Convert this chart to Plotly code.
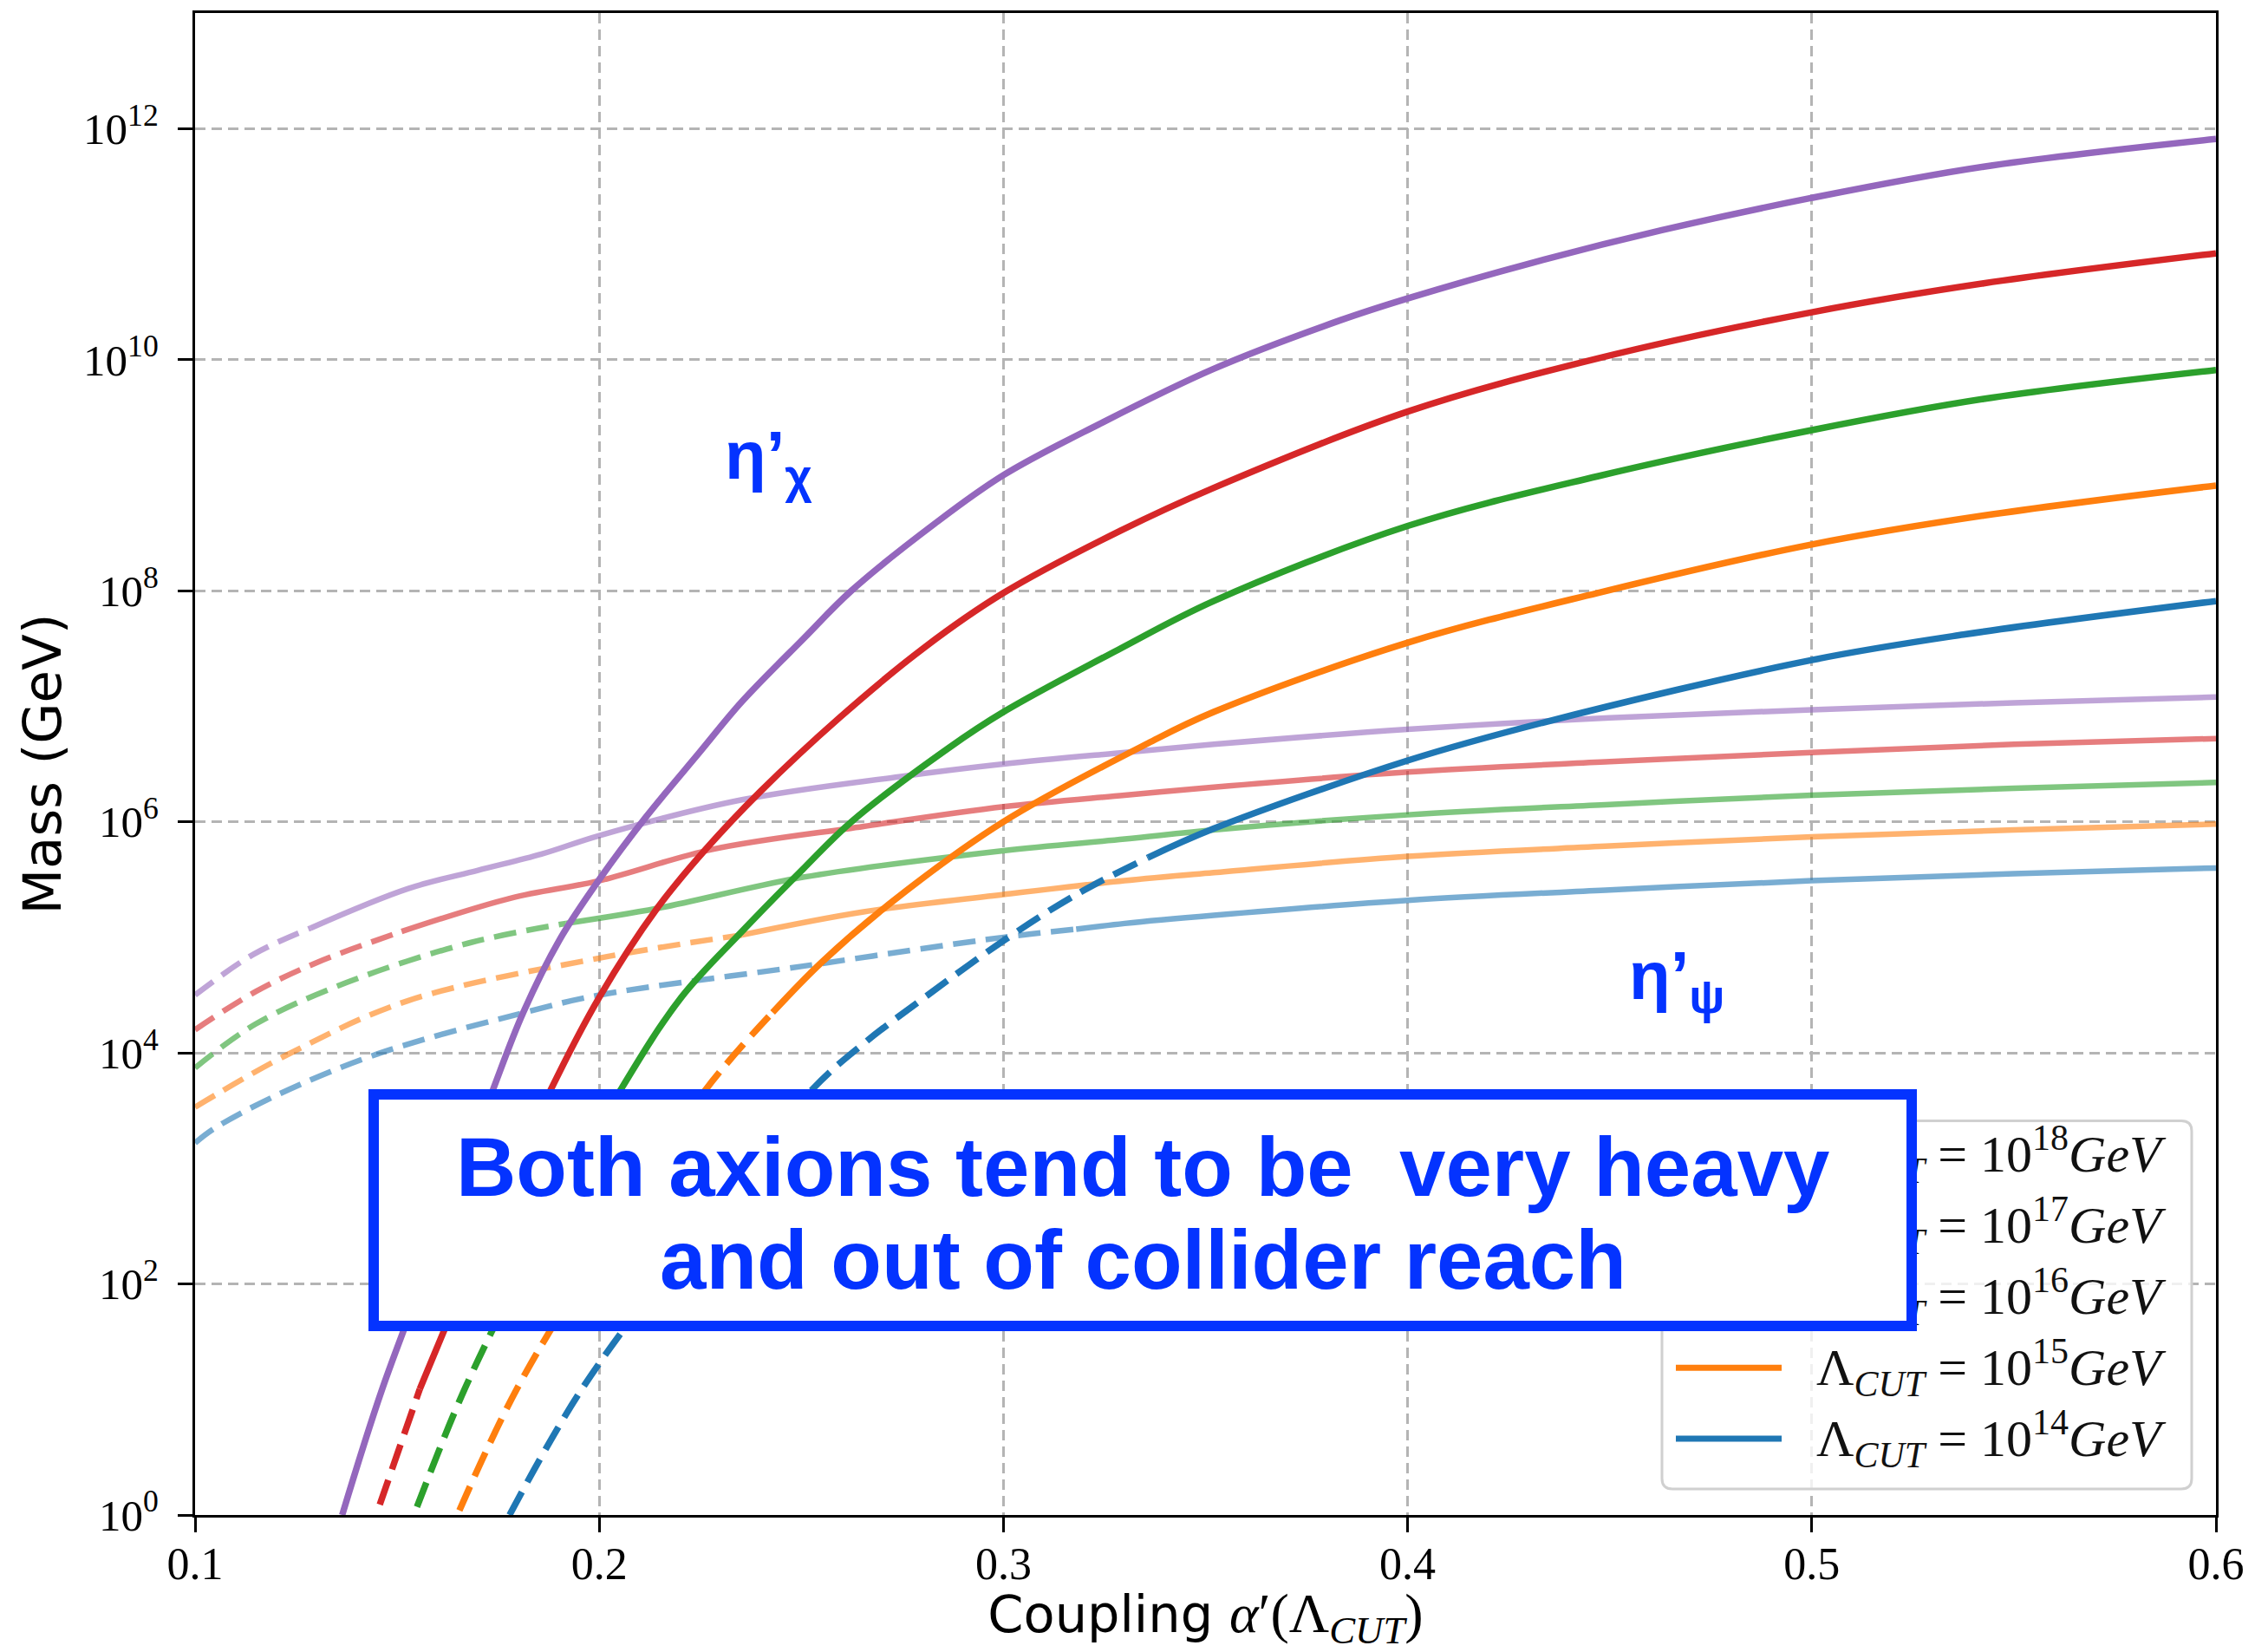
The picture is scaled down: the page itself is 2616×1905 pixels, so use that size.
import plotly.graph_objects as go

# ---------------------------------------------------------------------------
# Axion masses versus the coupling alpha'(Lambda_CUT), one curve per cut-off.
# Masses are stored as log10(m / GeV).
# ---------------------------------------------------------------------------

# eta'_chi (heavy curves)
chi18_alpha = [0.1364, 0.1463, 0.160, 0.1737, 0.1812, 0.1902, 0.200, 0.2113, 0.2248, 0.2353, 0.2504,
               0.2624, 0.283, 0.300, 0.3236, 0.352, 0.3833, 0.400, 0.431, 0.4629, 0.500, 0.5425, 0.600]
chi18_logm = [0.00, 1.09, 2.37, 3.68, 4.35, 4.98, 5.50, 6.03, 6.60, 7.04, 7.58,
              8.00, 8.58, 9.00, 9.44, 9.92, 10.34, 10.53, 10.84, 11.12, 11.40, 11.67, 11.91]

chi17_alpha = [0.1457, 0.1556, 0.172, 0.188, 0.200, 0.2143, 0.2263, 0.2398, 0.2594, 0.2805,
               0.300, 0.329, 0.352, 0.400, 0.447, 0.500, 0.5425, 0.600]
chi17_logm = [0.09, 1.09, 2.45, 3.68, 4.48, 5.25, 5.76, 6.26, 6.90, 7.51,
              7.98, 8.52, 8.89, 9.55, 10.01, 10.41, 10.66, 10.92]

chi16_alpha = [0.1549, 0.1667, 0.185, 0.2053, 0.2203, 0.2353, 0.2504, 0.2624, 0.2865, 0.300,
               0.329, 0.352, 0.400, 0.447, 0.500, 0.5425, 0.600]
chi16_logm = [0.07, 1.09, 2.40, 3.68, 4.48, 5.05, 5.59, 6.00, 6.64, 6.95,
              7.50, 7.91, 8.56, 8.99, 9.39, 9.66, 9.91]

chi15_alpha = [0.1654, 0.1796, 0.203, 0.2263, 0.2429, 0.2549, 0.2729, 0.300, 0.3358, 0.352,
               0.400, 0.447, 0.500, 0.5425, 0.600]
chi15_logm = [0.04, 1.09, 2.45, 3.68, 4.35, 4.78, 5.32, 6.00, 6.68, 6.95,
              7.55, 7.98, 8.40, 8.65, 8.91]

chi14_alpha = [0.1778, 0.1957, 0.224, 0.2526, 0.2654, 0.2805, 0.300, 0.318, 0.3358, 0.352,
               0.400, 0.4337, 0.500, 0.5375, 0.600]
chi14_logm = [0.00, 1.09, 2.43, 3.68, 4.08, 4.48, 4.97, 5.37, 5.69, 5.94,
              6.53, 6.86, 7.40, 7.62, 7.91]

# eta'_psi (light curves)
psi18_alpha = [0.100, 0.1143, 0.1286, 0.1526, 0.170, 0.1857, 0.200, 0.2353, 0.2742, 0.300,
               0.330, 0.352, 0.400, 0.450, 0.500, 0.550, 0.600]
psi18_logm = [4.50, 4.85, 5.08, 5.42, 5.58, 5.72, 5.88, 6.19, 6.39, 6.50,
              6.60, 6.67, 6.80, 6.90, 6.97, 7.03, 7.08]

psi17_alpha = [0.100, 0.115, 0.130, 0.1511, 0.1782, 0.200, 0.2278, 0.2654, 0.300, 0.330,
               0.352, 0.400, 0.450, 0.500, 0.550, 0.600]
psi17_logm = [4.20, 4.53, 4.78, 5.05, 5.34, 5.49, 5.76, 5.96, 6.13, 6.23,
              6.30, 6.43, 6.52, 6.60, 6.67, 6.72]

psi16_alpha = [0.100, 0.115, 0.1376, 0.1677, 0.1917, 0.2143, 0.2504, 0.300, 0.330, 0.352,
               0.400, 0.450, 0.500, 0.550, 0.600]
psi16_logm = [3.87, 4.25, 4.61, 4.95, 5.12, 5.25, 5.52, 5.75, 5.85, 5.93,
              6.06, 6.15, 6.23, 6.29, 6.34]

psi15_alpha = [0.100, 0.1226, 0.1526, 0.200, 0.2353, 0.2654, 0.300, 0.330, 0.352, 0.400,
               0.450, 0.500, 0.550, 0.600]
psi15_logm = [3.53, 3.98, 4.45, 4.82, 5.02, 5.22, 5.37, 5.49, 5.56, 5.70,
              5.79, 5.87, 5.93, 5.98]

psi14_alpha = [0.100, 0.1045, 0.120, 0.1451, 0.1827, 0.200, 0.2504, 0.300, 0.318, 0.330,
               0.352, 0.400, 0.450, 0.500, 0.550, 0.600]
psi14_logm = [3.22, 3.34, 3.63, 3.99, 4.36, 4.50, 4.75, 5.00, 5.07, 5.12,
              5.19, 5.32, 5.41, 5.49, 5.55, 5.60]

# index of the point where each curve switches from dashed to solid
chi_dash_end = {"18": 0, "17": 1, "16": 2, "15": 4, "14": 8}
psi_dash_end = {"18": 2, "17": 3, "16": 4, "15": 4, "14": 8}

cut_exponents = ["18", "17", "16", "15", "14"]
cut_colors = ["#9467bd", "#d62728", "#2ca02c", "#ff7f0e", "#1f77b4"]

x_ticks = [0.1, 0.2, 0.3, 0.4, 0.5, 0.6]
x_ticktext = ["0.1", "0.2", "0.3", "0.4", "0.5", "0.6"]
y_exponents = [0, 2, 4, 6, 8, 10, 12]

chi_series = {"18": (chi18_alpha, chi18_logm), "17": (chi17_alpha, chi17_logm),
              "16": (chi16_alpha, chi16_logm), "15": (chi15_alpha, chi15_logm),
              "14": (chi14_alpha, chi14_logm)}
psi_series = {"18": (psi18_alpha, psi18_logm), "17": (psi17_alpha, psi17_logm),
              "16": (psi16_alpha, psi16_logm), "15": (psi15_alpha, psi15_logm),
              "14": (psi14_alpha, psi14_logm)}

# ---------------------------------------------------------------------------
W, H = 2616, 1905
ML, MR, MT, MB = 225, 60, 13, 158
PW, PH = W - ML - MR, H - MT - MB

BLUE = "#0433ff"
SERIF = "Liberation Serif"
SANS = "DejaVu Sans"


def px_x(px):
    return (px - ML) / PW


def px_y(py):
    return (H - MB - py) / PH


def rgba(hex_color, a):
    h = hex_color.lstrip("#")
    r, g, b = int(h[0:2], 16), int(h[2:4], 16), int(h[4:6], 16)
    return f"rgba({r},{g},{b},{a})"


fig = go.Figure()


def add_curve(alpha, logm, split, color, width, dash, name):
    mass = [10 ** v for v in logm]
    if split > 0:
        fig.add_trace(go.Scatter(
            x=alpha[:split + 1], y=mass[:split + 1], mode="lines", name=name,
            line=dict(color=color, width=width, dash=dash, shape="spline", smoothing=1.0),
            showlegend=False, hoverinfo="skip"))
    fig.add_trace(go.Scatter(
        x=alpha[split:], y=mass[split:], mode="lines", name=name,
        line=dict(color=color, width=width, shape="spline", smoothing=1.0),
        showlegend=False, hoverinfo="skip"))


# light eta'_psi curves underneath
for exp_, col in zip(cut_exponents, cut_colors):
    a, m = psi_series[exp_]
    add_curve(a, m, psi_dash_end[exp_], rgba(col, 0.6), 6.5, "26px,12px", f"psi {exp_}")

# heavy eta'_chi curves on top
for exp_, col in zip(cut_exponents, cut_colors):
    a, m = chi_series[exp_]
    add_curve(a, m, chi_dash_end[exp_], col, 7.5, "30px,13px", f"chi {exp_}")

# ---------------------------------------------------------------------------
# legend frame and samples (drawn by hand so the box can be partly covered)
shapes = []
lx0, lx1, ly_top, ly_bot = 1917, 2528, 1292, 1717
x0, x1 = px_x(lx0), px_x(lx1)
y1, y0 = px_y(ly_top), px_y(ly_bot)
rx, ry = 12 / PW, 12 / PH
path = (f"M {x0 + rx},{y1} L {x1 - rx},{y1} Q {x1},{y1} {x1},{y1 - ry} "
        f"L {x1},{y0 + ry} Q {x1},{y0} {x1 - rx},{y0} L {x0 + rx},{y0} "
        f"Q {x0},{y0} {x0},{y0 + ry} L {x0},{y1 - ry} Q {x0},{y1} {x0 + rx},{y1} Z")
shapes.append(dict(type="path", xref="paper", yref="paper", path=path, layer="above",
                   fillcolor="rgba(255,255,255,0.8)", line=dict(color="#d0d0d0", width=3)))

row_y = [1331, 1413, 1495, 1577, 1659]
for py, col in zip(row_y, cut_colors):
    shapes.append(dict(type="line", xref="paper", yref="paper", layer="above",
                       x0=px_x(1933), x1=px_x(2055), y0=px_y(py), y1=px_y(py),
                       line=dict(color=col, width=7)))

annotations = []
for py, exp_ in zip(row_y, cut_exponents):
    annotations.append(dict(
        xref="paper", yref="paper", x=px_x(2093), y=px_y(py), xanchor="left", yanchor="middle",
        text=f"Λ<sub><i>CUT</i></sub> = 10<sup>{exp_}</sup><i>GeV</i>",
        showarrow=False, font=dict(family=SERIF, size=60, color="#111111")))

# particle labels
annotations.append(dict(xref="paper", yref="paper", x=px_x(886), y=px_y(529),
                        xanchor="center", yanchor="middle", showarrow=False,
                        text="<b>η’<sub>χ</sub></b>",
                        font=dict(family="Liberation Sans", size=78, color=BLUE)))
annotations.append(dict(xref="paper", yref="paper", x=px_x(1934), y=px_y(1130),
                        xanchor="center", yanchor="middle", showarrow=False,
                        text="<b>η’<sub>ψ</sub></b>",
                        font=dict(family="Liberation Sans", size=78, color=BLUE)))

# message box
bx0, bx1, by0, by1, bw = 425, 2211, 1256, 1535, 12
annotations.append(dict(xref="paper", yref="paper", x=px_x((bx0 + bx1) / 2), y=px_y((by0 + by1) / 2),
                        xanchor="center", yanchor="middle", showarrow=False, text=" ",
                        width=bx1 - bx0 - 2 * bw, height=by1 - by0 - 2 * bw,
                        bgcolor="white", bordercolor=BLUE, borderwidth=bw, borderpad=0,
                        font=dict(size=10)))
annotations.append(dict(xref="paper", yref="paper", x=px_x(1318), y=px_y(1345),
                        xanchor="center", yanchor="middle", showarrow=False,
                        text="<b>Both axions tend to be  very heavy</b>",
                        font=dict(family="Liberation Sans", size=96, color=BLUE)))
annotations.append(dict(xref="paper", yref="paper", x=px_x(1318), y=px_y(1452),
                        xanchor="center", yanchor="middle", showarrow=False,
                        text="<b>and out of collider reach</b>",
                        font=dict(family="Liberation Sans", size=96, color=BLUE)))

grid = dict(showgrid=True, gridcolor="#b4b4b4", gridwidth=2.5, griddash="12px,7px",
            showline=True, linecolor="black", linewidth=3, mirror=True,
            ticks="outside", ticklen=17, tickwidth=3, tickcolor="black", zeroline=False)

x_title = (f"Coupling <span style='font-family:{SERIF};font-size:64px'>"
           f"<i>α</i>′(Λ<sub><i>CUT</i></sub>)</span>")

fig.update_layout(
    width=W, height=H,
    margin=dict(l=ML, r=MR, t=MT, b=MB),
    paper_bgcolor="white", plot_bgcolor="white",
    showlegend=False,
    shapes=shapes,
    annotations=annotations,
    xaxis=dict(range=[0.1, 0.6], tickvals=x_ticks, ticktext=x_ticktext,
               tickfont=dict(family=SERIF, size=52, color="black"),
               ticklabelstandoff=-8,
               title=dict(text=x_title, font=dict(family=SANS, size=59, color="black"), standoff=18),
               **grid),
    yaxis=dict(type="log", range=[0, 13],
               tickvals=[10 ** e for e in y_exponents],
               ticktext=[f"10<sup>{e}</sup>" for e in y_exponents],
               tickfont=dict(family=SERIF, size=51, color="black"),
               ticklabelstandoff=12,
               title=dict(text="Mass (GeV)", font=dict(family=SANS, size=61, color="black"),
                          standoff=6),
               **grid),
)

fig.write_html("out.html")
